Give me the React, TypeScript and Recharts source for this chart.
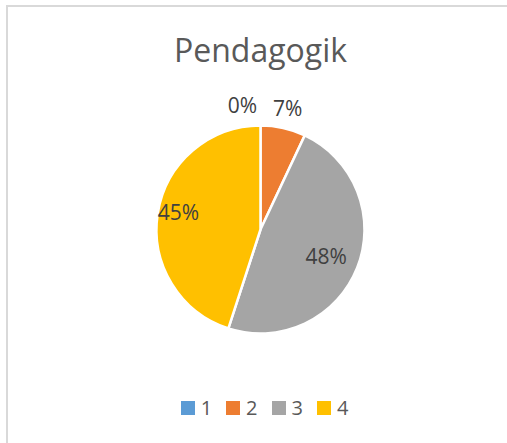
import * as React from "react";
import { PieChart, Pie, Cell, Legend } from "recharts";

// Pendagogik score distribution (percent of respondents)
const categories = ["1", "2", "3", "4"];
const shares = [0, 7, 48, 45];

const COLORS = ["#5B9BD5", "#ED7D31", "#A5A5A5", "#FFC000"];

const chartData = categories.map((name, i) => ({ name, value: shares[i] }));

const FONT = "'Open Sans', 'Noto Sans', sans-serif";
const RAD = Math.PI / 180;

function renderLabel(props: any) {
  const { cx, cy, midAngle, outerRadius, percent, index } = props;
  let r: number;
  let shiftX = 0;
  let shiftY = 0;
  if (percent < 0.1) {
    // small slices get their labels outside, like Excel's best fit
    r = outerRadius + 21;
    if (percent === 0) shiftX = -18;
  } else {
    r = outerRadius * (index === 2 ? 0.68 : 0.8);
    if (index === 3) shiftY = -4;
  }
  const x = cx + r * Math.cos(-midAngle * RAD) + shiftX;
  const y = cy + r * Math.sin(-midAngle * RAD) + shiftY;
  return (
    <text
      x={x}
      y={y}
      fill="#404040"
      fontSize={21}
      fontFamily={FONT}
      textAnchor="middle"
      dominantBaseline="central"
    >
      {`${Math.round(percent * 100)}%`}
    </text>
  );
}

function renderLegend(props: any) {
  const items = props.payload || [];
  return (
    <div
      style={{
        display: "flex",
        justifyContent: "center",
        alignItems: "center",
        fontFamily: FONT,
        fontSize: 20,
        color: "#595959",
        height: 21,
        paddingLeft: 28,
      }}
    >
      {items.map((item: any, i: number) => (
        <div key={`leg-${i}`} style={{ display: "flex", alignItems: "center", marginRight: 14 }}>
          <span style={{ width: 14, height: 14, background: item.color, marginRight: 6 }} />
          <span style={{ lineHeight: "21px" }}>{item.value}</span>
        </div>
      ))}
    </div>
  );
}

export default function App() {
  return (
    <div
      style={{
        position: "absolute",
        left: 6,
        top: 5,
        width: 503,
        height: 445,
        border: "2px solid #D9D9D9",
        boxSizing: "border-box",
        background: "#FFFFFF",
      }}
    >
      <div
        style={{
          position: "absolute",
          left: 3,
          top: 27,
          width: 499,
          textAlign: "center",
          fontFamily: FONT,
          fontSize: 32,
          lineHeight: "32px",
          color: "#595959",
        }}
      >
        Pendagogik
      </div>
      <PieChart width={499} height={441} margin={{ top: 0, right: 0, bottom: 0, left: 0 }}>
        <Pie
          data={chartData}
          dataKey="value"
          nameKey="name"
          cx={252.5}
          cy={222.5}
          outerRadius={104}
          startAngle={90}
          endAngle={-270}
          stroke="#FFFFFF"
          strokeWidth={2.5}
          label={renderLabel}
          labelLine={false}
          isAnimationActive={false}
        >
          {chartData.map((entry, index) => (
            <Cell key={`cell-${index}`} fill={COLORS[index % COLORS.length]} />
          ))}
        </Pie>
        <Legend
          content={renderLegend}
          wrapperStyle={{ position: "absolute", top: 390, left: 0, width: 499 }}
        />
      </PieChart>
    </div>
  );
}
